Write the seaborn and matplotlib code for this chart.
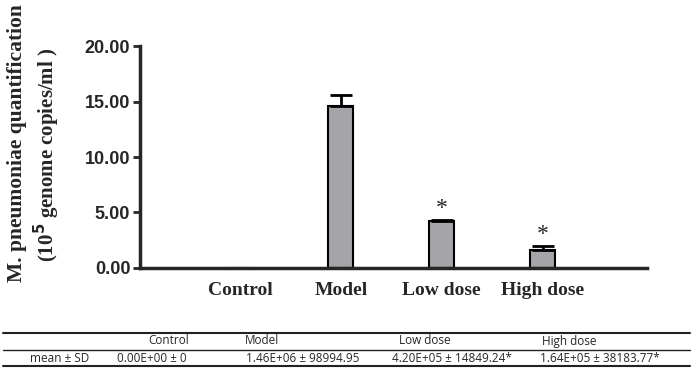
import numpy as np
import pandas as pd
import seaborn as sns
import matplotlib.pyplot as plt
from matplotlib.lines import Line2D

# data (10^5 genome copies/ml)
groups = ["Control", "Model", "Low dose", "High dose"]
means = [0.0, 14.6, 4.20, 1.64]
sds = [0.0, 0.99, 0.148, 0.38]
stars = ["", "", "*", "*"]

# summary table below the chart
table_head = ["Control", "Model", "Low dose", "High dose"]
table_vals = ["0.00E+00 \u00b1 0", "1.46E+06 \u00b1 98994.95",
              "4.20E+05 \u00b1 14849.24*", "1.64E+05 \u00b1 38183.77*"]
row_label = "mean \u00b1 SD"

df = pd.DataFrame({"group": groups, "mean": means, "sd": sds})

sns.set_style("ticks")
fig = plt.figure(figsize=(6.94, 3.72), dpi=100)
ax = fig.add_axes([0.2017, 0.2796, 0.730, 0.5967])

sns.barplot(data=df, x="group", y="mean", color="#a5a5a9", edgecolor="black",
            linewidth=1.5, width=0.25, errorbar=None, saturation=1, ax=ax)
xs = np.arange(len(groups))
ax.errorbar(xs[1:], df["mean"][1:], yerr=[np.zeros(3), df["sd"][1:]],
            fmt="none", ecolor="black", elinewidth=2, capsize=8, capthick=2)

for x, m, s, st in zip(xs, means, sds, stars):
    if st:
        ax.text(x, m + s + 0.05, st, ha="center", va="bottom", fontsize=17,
                family="Liberation Serif")

ax.set_xlim(-0.99, 4.03)
ax.set_ylim(0, 20)
ax.set_yticks([0, 5, 10, 15, 20])
ax.set_yticklabels([f"{v:.2f}" for v in [0, 5, 10, 15, 20]],
                   fontsize=13, fontweight="bold", family="Liberation Sans")
ax.set_xticklabels(groups, fontsize=14, fontweight="bold", family="Liberation Serif")
ax.tick_params(axis="x", length=0, pad=10)
ax.tick_params(axis="y", length=5, width=2, pad=2)
ax.set_xlabel("")
ax.set_ylabel("")
for side in ["top", "right"]:
    ax.spines[side].set_visible(False)
for side in ["left", "bottom"]:
    ax.spines[side].set_linewidth(2.5)

fig.text(0.025, 0.615, "M. pneumoniae quantification", rotation=90, ha="center",
         va="center", fontsize=15.5, fontweight="bold", family="Liberation Serif")
fig.text(0.068, 0.585, "(10$^{\\mathbf{5}}$ genome copies/ml )", rotation=90, ha="center",
         va="center", fontsize=15, fontweight="bold", family="Liberation Serif")

# table lines
for yy, lw in [(333, 1.5), (350, 1.0), (366, 1.5)]:
    fig.add_artist(Line2D([3 / 694, 690 / 694], [1 - yy / 372] * 2,
                          color="#222222", lw=lw))

head_x = [169, 262, 425, 569]
val_x = [152, 303, 452, 600]
for hx, h in zip(head_x, table_head):
    fig.text(hx / 694, 1 - 341 / 372, h, ha="center", va="center",
             fontsize=8.5, family="Open Sans")
fig.text(60 / 694, 1 - 358 / 372, row_label, ha="center", va="center",
         fontsize=8.5, family="Open Sans")
for vx, v in zip(val_x, table_vals):
    fig.text(vx / 694, 1 - 358 / 372, v, ha="center", va="center",
             fontsize=8.5, family="Open Sans")

fig.savefig("out.png", dpi=100)
